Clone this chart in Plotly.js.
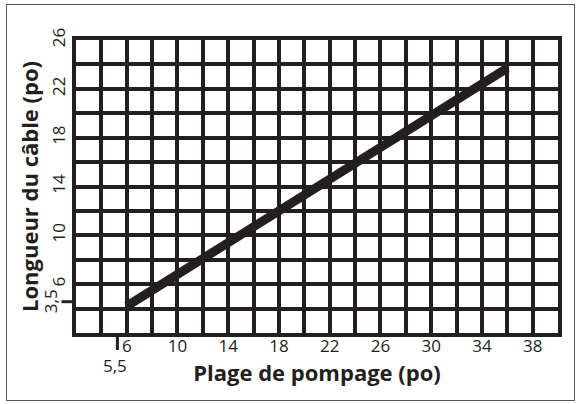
<!DOCTYPE html>
<html>
<head>
<meta charset="utf-8">
<script src="https://cdn.plot.ly/plotly-3.0.1.min.js"></script>
<style>
  html, body { margin: 0; padding: 0; background: #fff; }
  #frame { position: absolute; left: 6px; top: 4px; width: 569px; height: 397px; border: 1.5px solid #555; box-sizing: border-box; }
  #chart { position: absolute; left: 0; top: 0; width: 579px; height: 404px; }
</style>
</head>
<body>
<div id="frame"></div>
<div id="chart"></div>
<script>
// Data
const strokeRange = [6, 36];          // Plage de pompage (po)
const cableLength = [4.2, 23.7];      // Longueur du câble (po)

const xTickVals = [6, 10, 14, 18, 22, 26, 30, 34, 38];
const xTickText = ['6', '10', '14', '18', '22', '26', '30', '34', '38'];
const yTickVals = [6, 10, 14, 18, 22, 26];
const yTickText = ['6', '10', '14', '18', '22', '26'];

const markX = 5.5, markXText = '5,5';
const markY = 3.5, markYText = '3,5';

const ink = '#231f20';
const fontFam = '"Open Sans", "Noto Sans", sans-serif';

const trace = {
  x: strokeRange,
  y: cableLength,
  mode: 'lines',
  line: { color: ink, width: 9 },
  hoverinfo: 'skip',
  showlegend: false
};

const tickFont = { size: 17, color: ink, family: fontFam };

const layout = {
  width: 579,
  height: 404,
  margin: { l: 76, r: 21, t: 40, b: 71 },
  paper_bgcolor: 'rgba(0,0,0,0)',
  plot_bgcolor: '#fff',
  font: { family: fontFam, color: ink },
  xaxis: {
    range: [2, 40],
    tickvals: xTickVals,
    ticktext: xTickText,
    tickfont: tickFont,
    ticklabelstandoff: -5,
    showgrid: true,
    gridcolor: ink,
    gridwidth: 4,
    minor: { dtick: 2, tick0: 2, showgrid: true, gridcolor: ink, gridwidth: 4 },
    showline: true,
    linecolor: ink,
    linewidth: 4,
    mirror: true,
    zeroline: false,
    ticks: '',
    fixedrange: true,
    title: { text: 'Plage de pompage (po)', font: { size: 22, color: ink, family: fontFam, weight: 'bold' }, standoff: 0 }
  },
  yaxis: {
    range: [2, 26],
    tickvals: yTickVals,
    ticktext: yTickText,
    tickangle: -90,
    tickfont: tickFont,
    showgrid: true,
    gridcolor: ink,
    gridwidth: 4,
    minor: { dtick: 2, tick0: 2, showgrid: true, gridcolor: ink, gridwidth: 4 },
    showline: true,
    linecolor: ink,
    linewidth: 4,
    mirror: true,
    zeroline: false,
    ticks: '',
    fixedrange: true,
    title: { text: 'Longueur du câble (po)', font: { size: 22, color: ink, family: fontFam, weight: 'bold' }, standoff: 4 }
  },
  shapes: [
    { type: 'line', xref: 'x', yref: 'paper', xsizemode: 'pixel', xanchor: markX, x0: -3, x1: -3, y0: 0, y1: -0.058, line: { color: ink, width: 3 } },
    { type: 'line', xref: 'paper', yref: 'y', ysizemode: 'pixel', yanchor: markY, y0: 13, y1: 13, x0: 0, x1: -0.03, line: { color: ink, width: 3 } }
  ],
  annotations: [
    { x: markX, y: 0, xref: 'x', yref: 'paper', yanchor: 'top', yshift: -19, xshift: -5, text: markXText, showarrow: false, font: tickFont },
    { x: 0, y: markY, xref: 'paper', yref: 'y', xanchor: 'right', xshift: -12, yshift: 13, text: markYText, textangle: -90, showarrow: false, font: tickFont }
  ]
};

Plotly.newPlot('chart', [trace], layout, { displayModeBar: false, staticPlot: true });
</script>
</body>
</html>
